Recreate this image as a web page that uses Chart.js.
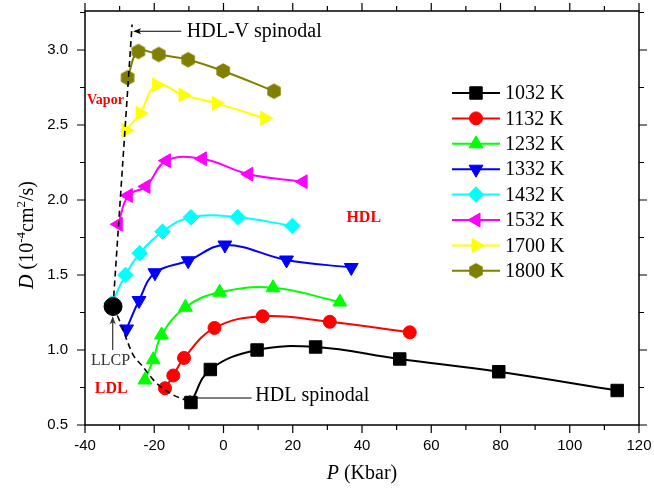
<!DOCTYPE html>
<html>
<head>
<meta charset="utf-8">
<script src="https://cdn.jsdelivr.net/npm/chart.js@4.4.1/dist/chart.umd.min.js"></script>
<style>
  html, body { margin: 0; padding: 0; background: #fff; }
  #wrap { width: 654px; height: 489px; }
</style>
</head>
<body>
<div id="wrap"><canvas id="chart" width="654" height="489"></canvas></div>
<script>
// values: P in Kbar, D in 1e-4 cm^2/s
const seriesLabels = ['1032 K', '1132 K', '1232 K', '1332 K', '1432 K', '1532 K', '1700 K', '1800 K'];

const p1032 = [-9.4, -3.8, 9.7, 26.6, 50.9, 79.5, 113.7];
const d1032 = [0.65, 0.87, 1.00, 1.02, 0.94, 0.855, 0.73];

const p1132 = [-16.9, -14.5, -11.4, -2.6, 11.3, 30.7, 53.8];
const d1132 = [0.745, 0.83, 0.947, 1.147, 1.225, 1.188, 1.118];

const p1232 = [-22.7, -20.3, -17.9, -11.0, -1.1, 14.3, 33.6];
const d1232 = [0.80, 0.935, 1.10, 1.285, 1.385, 1.415, 1.32];

const p1332 = [-28.0, -24.4, -19.8, -10.2, 0.4, 18.2, 36.9];
const d1332 = [1.14, 1.33, 1.515, 1.595, 1.70, 1.60, 1.55];

const p1432 = [-32.3, -28.3, -24.2, -17.6, -9.4, 4.1, 19.9];
const d1432 = [1.31, 1.50, 1.645, 1.789, 1.885, 1.885, 1.827];

const p1532 = [-30.4, -27.5, -22.4, -16.5, -6.1, 7.3, 23.0];
const d1532 = [1.838, 2.03, 2.09, 2.262, 2.275, 2.172, 2.122];

const p1700 = [-28.2, -24.1, -19.3, -11.7, -2.0, 11.9];
const d1700 = [2.465, 2.578, 2.767, 2.70, 2.644, 2.545];

const p1800 = [-27.7, -24.6, -18.7, -10.2, -0.1, 14.6];
const d1800 = [2.815, 2.99, 2.97, 2.935, 2.86, 2.725];

// liquid-liquid critical point and the two spinodals
const pLLCP = [-31.9];
const dLLCP = [1.29];
const pHdlV = [-31.9, -26.4];
const dHdlV = [1.29, 3.17];
const pHdl = [-31.9, -30.1, -26.1, -23.7, -19.3, -14.5, -10.8];
const dHdl = [1.29, 1.20, 0.967, 0.90, 0.778, 0.70, 0.665];

const xTickLabels = [-40, -20, 0, 20, 40, 60, 80, 100, 120];
const yTickLabels = [0.5, 1.0, 1.5, 2.0, 2.5, 3.0];

const serif = '"Liberation Serif", "Times New Roman", serif';
const sans = '"Liberation Sans", Arial, sans-serif';

// hexagon symbol (no built-in point style for it)
function makeHexagon(color, r) {
    const c = document.createElement('canvas');
    const s = Math.ceil(r * 2 + 2);
    c.width = s; c.height = s;
    const g = c.getContext('2d');
    g.fillStyle = color;
    g.beginPath();
    for (let i = 0; i < 6; i++) {
        const a = Math.PI / 6 + i * Math.PI / 3;
        const px = s / 2 + r * Math.cos(a), py = s / 2 + r * Math.sin(a);
        if (i === 0) g.moveTo(px, py); else g.lineTo(px, py);
    }
    g.closePath();
    g.fill();
    return c;
}
const hexImg = makeHexagon('#808000', 7.8);

function toPoints(xs, ys) {
    return xs.map(function(x, i) { return { x: x, y: ys[i] }; });
}

function series(label, xs, ys, color, style, rotation, radius) {
    return {
        label: label,
        data: toPoints(xs, ys),
        showLine: true,
        borderColor: color,
        backgroundColor: color,
        borderWidth: 2,
        tension: 0.4,
        pointStyle: style,
        rotation: rotation,
        pointRadius: radius,
        pointBorderWidth: 1,
        pointBorderColor: color,
        pointBackgroundColor: color,
        order: 5
    };
}

const datasets = [
    series(seriesLabels[0], p1032, d1032, '#000000', 'rect', 0, 8.8),
    series(seriesLabels[1], p1132, d1132, '#ff0000', 'circle', 0, 6.5),
    series(seriesLabels[2], p1232, d1232, '#00ff00', 'triangle', 0, 8),
    series(seriesLabels[3], p1332, d1332, '#0000ff', 'triangle', 180, 8),
    series(seriesLabels[4], p1432, d1432, '#00ffff', 'rectRot', 0, 7.8),
    series(seriesLabels[5], p1532, d1532, '#ff00ff', 'triangle', 270, 8),
    series(seriesLabels[6], p1700, d1700, '#ffff00', 'triangle', 90, 8),
    series(seriesLabels[7], p1800, d1800, '#808000', hexImg, 0, 8),
    {
        label: 'HDL-V spinodal',
        data: toPoints(pHdlV, dHdlV),
        showLine: true,
        borderColor: '#000',
        borderWidth: 1.6,
        borderDash: [6, 4],
        pointRadius: 0,
        tension: 0,
        order: 1
    },
    {
        label: 'HDL spinodal',
        data: toPoints(pHdl, dHdl),
        showLine: true,
        borderColor: '#000',
        borderWidth: 1.6,
        borderDash: [6, 4],
        pointRadius: 0,
        tension: 0.35,
        order: 1
    },
    {
        label: 'LLCP',
        data: toPoints(pLLCP, dLLCP),
        showLine: false,
        pointStyle: 'circle',
        pointRadius: 9,
        pointBackgroundColor: '#000',
        pointBorderColor: '#000',
        pointBorderWidth: 1,
        order: 0
    }
];

function arrowHead(ctx, x, y, dir) {
    // small filled arrow head pointing in direction dir (radians)
    ctx.save();
    ctx.translate(x, y);
    ctx.rotate(dir);
    ctx.beginPath();
    ctx.moveTo(0, 0);
    ctx.lineTo(-8, -3);
    ctx.lineTo(-6, 0);
    ctx.lineTo(-8, 3);
    ctx.closePath();
    ctx.fill();
    ctx.restore();
}

function drawPieces(ctx, pieces, x, y, align) {
    let total = 0;
    pieces.forEach(function(p) { ctx.font = p.font; p.w = ctx.measureText(p.t).width; total += p.w; });
    let cx = align === 'center' ? x - total / 2 : x;
    ctx.textAlign = 'left';
    ctx.textBaseline = 'alphabetic';
    pieces.forEach(function(p) {
        ctx.font = p.font;
        ctx.fillText(p.t, cx, y + (p.dy || 0));
        cx += p.w;
    });
}

const decorPlugin = {
    id: 'decor',
    afterDraw: function(chart) {
        const ctx = chart.ctx;
        const a = chart.chartArea;
        const xs = chart.scales.x, ys = chart.scales.y;
        const X = function(v) { return xs.getPixelForValue(v); };
        const Y = function(v) { return ys.getPixelForValue(v); };

        ctx.save();
        // frame
        ctx.strokeStyle = '#000';
        ctx.lineWidth = 1.5;
        ctx.strokeRect(a.left, a.top, a.right - a.left, a.bottom - a.top);

        // ticks, outward, on all four sides
        ctx.lineWidth = 1.2;
        ctx.beginPath();
        for (let v = -40; v <= 120; v += 10) {
            const px = X(v);
            const len = (v % 20 === 0) ? 8 : 5;
            ctx.moveTo(px, a.bottom); ctx.lineTo(px, a.bottom + len);
            ctx.moveTo(px, a.top); ctx.lineTo(px, a.top - len);
        }
        for (let k = 0; k <= 11; k++) {
            const v = 0.5 + k * 0.25;
            const py = Y(v);
            const len = (k % 2 === 0) ? 8 : 5;
            ctx.moveTo(a.left, py); ctx.lineTo(a.left - len, py);
            ctx.moveTo(a.right, py); ctx.lineTo(a.right + len, py);
        }
        ctx.stroke();

        // custom legend: line + symbol + label
        chart.data.datasets.slice(0, 8).forEach(function(ds, i) {
            const y = 93 + i * 25.4;
            ctx.strokeStyle = ds.borderColor;
            ctx.fillStyle = ds.borderColor;
            ctx.lineWidth = 2;
            ctx.beginPath();
            ctx.moveTo(452, y); ctx.lineTo(500, y);
            ctx.stroke();
            ctx.lineWidth = 1;
            Chart.helpers.drawPoint(ctx, {
                pointStyle: ds.pointStyle,
                radius: ds.pointRadius,
                rotation: ds.rotation,
                borderWidth: 1
            }, 476, y);
            ctx.fillStyle = '#000';
            ctx.font = '20px ' + serif;
            ctx.textAlign = 'left';
            ctx.textBaseline = 'middle';
            ctx.fillText(ds.label, 505, y + 1);
        });

        // annotations
        ctx.fillStyle = '#000';
        ctx.strokeStyle = '#000';
        ctx.lineWidth = 1.2;
        // HDL-V spinodal
        let ay = Y(3.125);
        ctx.beginPath(); ctx.moveTo(X(-12.2), ay); ctx.lineTo(X(-25.6), ay); ctx.stroke();
        arrowHead(ctx, X(-26.1), ay, Math.PI);
        ctx.font = '20px ' + serif;
        ctx.textAlign = 'left'; ctx.textBaseline = 'middle';
        ctx.fillText('HDL-V spinodal', X(-10.6), ay);
        // HDL spinodal
        ay = Y(0.68);
        ctx.beginPath(); ctx.moveTo(X(8.1), ay); ctx.lineTo(X(-11.2), ay); ctx.stroke();
        arrowHead(ctx, X(-11.7), ay, Math.PI);
        ctx.fillText('HDL spinodal', X(9.2), ay - 2);
        // LLCP
        const lx = X(-32.0);
        ctx.strokeStyle = '#333';
        ctx.fillStyle = '#333';
        ctx.beginPath(); ctx.moveTo(lx, Y(1.0)); ctx.lineTo(lx, Y(1.215)); ctx.stroke();
        arrowHead(ctx, lx, Y(1.225), -Math.PI / 2);
        ctx.font = '16px ' + serif;
        ctx.textAlign = 'center';
        ctx.fillText('LLCP', X(-32.6), Y(0.93));
        // phase labels
        ctx.fillStyle = '#ff0000';
        ctx.font = 'bold 16px ' + serif;
        ctx.fillText('LDL', X(-32.4), Y(0.74));
        ctx.fillText('HDL', X(40.5), Y(1.882));
        ctx.font = 'bold 14px ' + serif;
        ctx.fillText('Vapor', X(-34.1), Y(2.662));

        // axis titles
        ctx.fillStyle = '#000';
        drawPieces(ctx, [
            { t: 'P', font: 'italic 20px ' + serif },
            { t: ' (Kbar)', font: '20px ' + serif }
        ], 362, 479, 'center');
        ctx.save();
        ctx.translate(33, 235);
        ctx.rotate(-Math.PI / 2);
        drawPieces(ctx, [
            { t: 'D', font: 'italic 20px ' + serif },
            { t: ' (10', font: '20px ' + serif },
            { t: '-4', font: '13px ' + serif, dy: -8 },
            { t: 'cm', font: '20px ' + serif },
            { t: '2', font: '13px ' + serif, dy: -8 },
            { t: '/s)', font: '20px ' + serif }
        ], 0, 0, 'center');
        ctx.restore();
        ctx.restore();
    }
};

new Chart(document.getElementById('chart'), {
    type: 'scatter',
    data: { datasets: datasets },
    options: {
        responsive: false,
        animation: false,
        devicePixelRatio: 1,
        layout: { padding: { left: 0, right: 15, top: 11, bottom: 0 } },
        plugins: {
            legend: { display: false },
            tooltip: { enabled: false }
        },
        scales: {
            x: {
                type: 'linear',
                min: -40,
                max: 120,
                grid: { display: false, drawTicks: false },
                border: { display: false },
                ticks: {
                    stepSize: 10,
                    autoSkip: false,
                    maxRotation: 0,
                    padding: 12,
                    color: '#000',
                    font: { family: sans, size: 15 },
                    callback: function(v) { return xTickLabels.indexOf(v) >= 0 ? String(v) : ''; }
                },
                afterFit: function(s) {
                    s.height = 64;
                    s.paddingLeft = 0; s.paddingRight = 0;
                }
            },
            y: {
                type: 'linear',
                min: 0.5,
                max: 3.26,
                grid: { display: false, drawTicks: false },
                border: { display: false },
                ticks: {
                    stepSize: 0.25,
                    autoSkip: false,
                    padding: 17,
                    color: '#000',
                    font: { family: sans, size: 15 },
                    callback: function(v) {
                        const hit = yTickLabels.find(function(t) { return Math.abs(t - v) < 1e-6; });
                        return hit !== undefined ? hit.toFixed(1) : '';
                    }
                },
                afterFit: function(s) {
                    s.width = 85;
                    s.paddingTop = 0; s.paddingBottom = 0;
                }
            }
        }
    },
    plugins: [decorPlugin]
});
</script>
</body>
</html>
